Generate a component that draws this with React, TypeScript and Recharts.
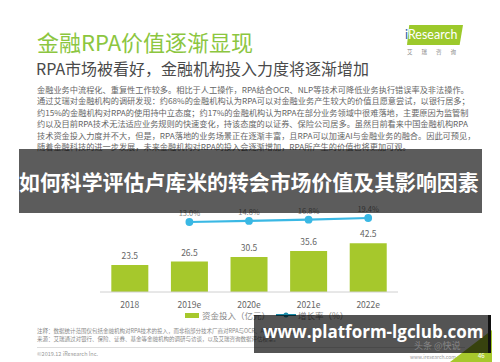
import React from 'react';
import { ComposedChart, Bar, Line, XAxis, YAxis, LabelList } from 'recharts';

const years = ['2018', '2019e', '2020e', '2021e', '2022e'];
const investment = [23.5, 26.5, 30.5, 35.6, 42.5];
const growthRate = [null, 13.0, 14.8, 16.8, 19.4];

const bodyLines = [
  '金融业务中流程化、重复性工作较多。相比于人工操作，RPA结合OCR、NLP等技术可降低业务执行错误率及非法操作。',
  '通过艾瑞对金融机构的调研发现：约68%的金融机构认为RPA可以对金融业务产生较大的价值且愿意尝试，以银行居多；',
  '约15%的金融机构对RPA的使用持中立态度；约17%的金融机构认为RPA在部分业务领域中很难落地，主要原因为监管制',
  '约以及目前RPA技术无法适应业务规则的快速变化，持该态度的以证券、保险公司居多。虽然目前看来中国金融机构RPA',
  '技术资金投入力度并不大，但是，RPA落地的业务场景正在逐渐丰富，且RPA可以加速AI与金融业务的融合。因此可预见，',
  '随着金融科技的进一步发展，未来金融机构对RPA的投入会逐渐增加，RPA所产生的价值也将更加可观。',
];

const data = years.map((y, i) => ({ year: y, invest: investment[i], rate: growthRate[i] }));

const GREEN = '#a6c82c';
const BLUE = '#3ab8e4';
const font = '"Noto Sans CJK SC", "Noto Sans", sans-serif';

const pct = (v: any) => (v == null ? '' : Number(v).toFixed(1) + '%');

// legend drawn by hand so recharts does not shrink the plot area for it
const LegendBox = () => (
  <div style={{ display: 'flex', alignItems: 'center', fontSize: 8.5, color: '#888', fontFamily: font, whiteSpace: 'nowrap' }}>
    <span style={{ width: 14, height: 5, background: GREEN, display: 'inline-block', marginRight: 3 }} />
    <span>资金投入（亿元）</span>
    <svg width="20" height="8" style={{ marginLeft: 6, marginRight: 2 }}>
      <line x1="0" y1="4" x2="20" y2="4" stroke="#1a8aa8" strokeWidth="2" />
      <circle cx="10" cy="4" r="2.5" fill="#1a8aa8" />
    </svg>
    <span>增长率（%）</span>
  </div>
);

export default function App() {
  return (
    <div style={{ position: 'absolute', left: 0, top: 0, width: 500, height: 362, background: '#fff', overflow: 'hidden', fontFamily: font }}>
      {/* slide header */}
      <div style={{ position: 'absolute', left: 37, top: 26, fontSize: 22, color: '#8cc63f', whiteSpace: 'nowrap', lineHeight: '30px' }}>
        金融RPA价值逐渐显现
      </div>
      <div style={{ position: 'absolute', left: 36, top: 58, fontSize: 16, color: '#4a4a4a', whiteSpace: 'nowrap', lineHeight: '20px' }}>
        RPA市场被看好，金融机构投入力度将逐渐增加
      </div>
      <div style={{ position: 'absolute', left: 407, top: 25, width: 56, height: 20, background: '#9cc92b', clipPath: 'polygon(4% 0, 100% 0, 94% 100%, 0 100%)' }} />
      <div style={{ position: 'absolute', left: 405, top: 26, fontSize: 12.5, color: '#fff', whiteSpace: 'nowrap', lineHeight: '18px', fontFamily: 'Lato, sans-serif' }}>
        <span style={{ color: '#1f5fa8' }}>i</span>Research
      </div>
      <div style={{ position: 'absolute', left: 407, top: 48, fontSize: 5.5, color: '#888', whiteSpace: 'nowrap', letterSpacing: 9 }}>
        艾瑞咨询
      </div>
      {bodyLines.map((t, i) => (
        <div key={i} style={{ position: 'absolute', left: 37, top: 84 + i * 11.4, fontSize: 8.2, color: '#666', whiteSpace: 'nowrap', lineHeight: '11px' }}>
          {t}
        </div>
      ))}

      {/* chart */}
      <div style={{ position: 'absolute', left: 0, top: 0 }}>
        <ComposedChart width={500} height={362} data={data} margin={{ top: 200, right: 102, bottom: 40, left: 100 }} barCategoryGap="19%">
          <XAxis dataKey="year" axisLine={{ stroke: '#d0d0d0' }} tickLine={false} tick={{ fontSize: 8.5, fill: '#666', fontFamily: font }} height={30} tickMargin={4} />
          <YAxis yAxisId="bar" hide domain={[0, 80]} allowDataOverflow />
          <YAxis yAxisId="line" hide orientation="right" domain={[-99, 48.2]} allowDataOverflow />
          <Bar yAxisId="bar" dataKey="invest" fill={GREEN} isAnimationActive={false}>
            <LabelList dataKey="invest" position="top" offset={6} style={{ fontSize: 8.5, fill: '#666', fontFamily: font }} />
          </Bar>
          <Line yAxisId="line" dataKey="rate" stroke={BLUE} strokeWidth={2.2} dot={{ r: 2.8, fill: BLUE, stroke: BLUE }} connectNulls={false} isAnimationActive={false}>
            <LabelList dataKey="rate" position="top" offset={6} formatter={pct} style={{ fontSize: 7.5, fill: '#888', fontFamily: font }} />
          </Line>
        </ComposedChart>
      </div>
      <div style={{ position: 'absolute', left: 185, top: 309 }}>
        <LegendBox />
      </div>

      {/* footer */}
      <div style={{ position: 'absolute', left: 37, top: 328, fontSize: 5.5, color: '#888', whiteSpace: 'nowrap', lineHeight: '6px' }}>
        注释：数据统计范围仅包括金融机构对RPA技术的投入，而非指部分技术厂商对RPA与OCR、AI等技术的投入。
      </div>
      <div style={{ position: 'absolute', left: 37, top: 336, fontSize: 5.5, color: '#888', whiteSpace: 'nowrap', lineHeight: '6px' }}>
        来源：艾瑞通过对银行、保险、证券、基金等金融机构的调研与访谈，以及艾瑞咨询数据评估模型。
      </div>
      <div style={{ position: 'absolute', left: 37, top: 347, width: 428, height: 1, background: '#ddd' }} />
      <div style={{ position: 'absolute', left: 37, top: 351, fontSize: 5.5, color: '#999', whiteSpace: 'nowrap', lineHeight: '6px' }}>
        ©2019.12 iResearch Inc.
      </div>
      <div style={{ position: 'absolute', left: 410, top: 354, fontSize: 5, color: '#999', whiteSpace: 'nowrap', lineHeight: '6px' }}>
        www.iresearch.com.cn
      </div>
      <div style={{ position: 'absolute', left: 450, top: 330, width: 42, height: 32, background: '#a6c82c', clipPath: 'polygon(100% 0, 100% 100%, 0 100%)' }} />
      <div style={{ position: 'absolute', left: 478, top: 352, fontSize: 6, color: '#fff', lineHeight: '8px' }}>46</div>

      {/* overlays (semi-transparent, the slide shows through) */}
      <div style={{ position: 'absolute', left: 19, top: 149, width: 463, height: 64, background: 'rgba(0,0,0,0.64)' }}>
        <div style={{ position: 'absolute', left: 0, top: 18, color: '#fff', fontSize: 20.9, fontWeight: 700, whiteSpace: 'nowrap', lineHeight: '28px' }}>
          如何科学评估卢库米的转会市场价值及其影响因素
        </div>
      </div>
      <div style={{ position: 'absolute', left: 254, top: 315, width: 234, height: 38, background: 'rgba(0,0,0,0.67)', borderRight: '3px solid #111' }}>
        <div style={{ position: 'absolute', left: 9, top: 5, color: '#fff', fontSize: 17, fontWeight: 700, whiteSpace: 'nowrap', lineHeight: '24px', fontFamily: '"Open Sans", "Noto Sans", sans-serif' }}>
          www.platform-lgclub.com
        </div>
        <div style={{ position: 'absolute', left: 160, top: 25, color: 'rgba(255,255,255,0.3)', fontSize: 9, whiteSpace: 'nowrap', lineHeight: '11px' }}>
          头条 @快说
        </div>
      </div>
    </div>
  );
}
